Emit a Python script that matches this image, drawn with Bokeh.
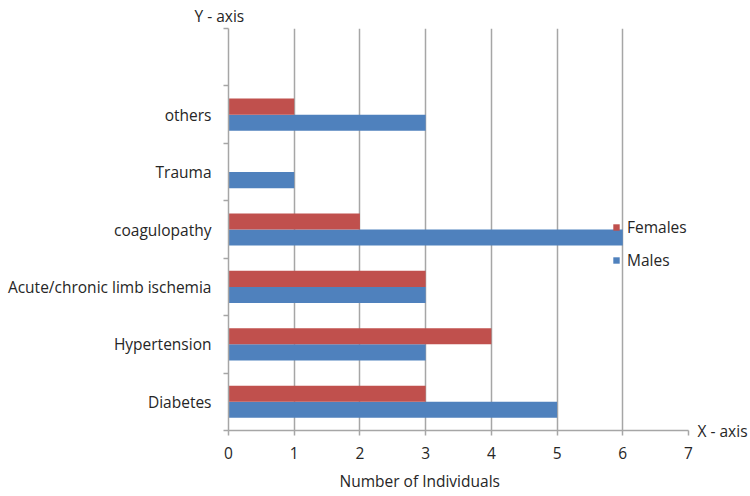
from bokeh.plotting import figure
from bokeh.models import (Range1d, FixedTicker, LinearAxis, Title, Legend,
                          LegendItem, ColumnDataSource)
from bokeh.embed import file_html
from bokeh.resources import INLINE

# Risk factors (bottom to top) and counts per sex
categories = ["Diabetes", "Hypertension", "Acute/chronic limb ischemia",
              "coagulopathy", "Trauma", "others"]
males = [5, 3, 3, 6, 1, 3]
females = [3, 4, 3, 2, 0, 1]
x_ticks = [0, 1, 2, 3, 4, 5, 6, 7]

FONT = "Open Sans"
FS = "15.5px"
TXT = "#262626"
GRID = "#a6a6a6"
BLUE = "#4f81bd"
RED = "#c0504d"

n_slots = len(categories) + 1  # one empty slot above the last category
centers = [i + 0.5 for i in range(len(categories))]
bar_h = 0.28

male_src = ColumnDataSource(dict(y=[c - bar_h / 2 for c in centers], v=males))
fem_src = ColumnDataSource(dict(y=[c + bar_h / 2 for c in centers], v=females))

p = figure(width=750, height=496, output_backend="svg", toolbar_location=None,
           x_range=Range1d(0, x_ticks[-1]), y_range=Range1d(0, n_slots),
           min_border_left=228, min_border_right=62,
           min_border_top=28, min_border_bottom=66)
p.outline_line_color = None
p.background_fill_color = "white"
p.border_fill_color = "white"

rm = p.hbar(y="y", right="v", left=0, height=bar_h, source=male_src,
            fill_color=BLUE, line_color=None)
rf = p.hbar(y="y", right="v", left=0, height=bar_h, source=fem_src,
            fill_color=RED, line_color=None)


def plain_tag_axis(axis, standoff):
    """Style an axis so that it shows only its label text."""
    axis.axis_line_color = None
    axis.major_tick_line_color = None
    axis.minor_tick_line_color = None
    axis.major_tick_out = 0
    axis.major_tick_in = 0
    axis.major_label_standoff = standoff
    axis.major_label_text_font = FONT
    axis.major_label_text_font_size = FS
    axis.major_label_text_color = TXT


# x axis
xa = p.xaxis[0]
xa.ticker = FixedTicker(ticks=x_ticks)
xa.axis_line_color = GRID
xa.axis_line_width = 1.5
xa.major_tick_line_color = GRID
xa.major_tick_line_width = 1.5
xa.major_tick_out = 5
xa.major_tick_in = 0
xa.minor_tick_line_color = None
xa.major_label_text_font = FONT
xa.major_label_text_font_size = FS
xa.major_label_text_color = TXT
xa.major_label_standoff = 11

# x axis title, set a little left of the frame centre
title_x = 2.91
xtitle = LinearAxis(ticker=FixedTicker(ticks=[title_x]),
                    major_label_overrides={title_x: "Number of Individuals"})
plain_tag_axis(xtitle, 8)
p.add_layout(xtitle, "below")

# y axis: labels at slot centres, tick marks at slot boundaries
ya = p.yaxis[0]
ya.ticker = FixedTicker(ticks=centers, minor_ticks=list(range(n_slots + 1)))
ya.major_label_overrides = {c: name for c, name in zip(centers, categories)}
ya.axis_line_color = GRID
ya.axis_line_width = 1.5
ya.major_tick_line_color = None
ya.major_tick_out = 0
ya.major_tick_in = 0
ya.minor_tick_line_color = GRID
ya.minor_tick_line_width = 1.5
ya.minor_tick_out = 5
ya.minor_tick_in = 0
ya.major_label_text_font = FONT
ya.major_label_text_font_size = FS
ya.major_label_text_color = TXT
ya.major_label_standoff = 12

# "X - axis" tag at the end of the horizontal axis
xtag = LinearAxis(ticker=FixedTicker(ticks=[0]),
                  major_label_overrides={0: "X - axis"})
plain_tag_axis(xtag, 9)
p.add_layout(xtag, "right")

p.xgrid.ticker = FixedTicker(ticks=x_ticks[1:])
p.xgrid.grid_line_color = GRID
p.xgrid.grid_line_width = 1.5
p.ygrid.grid_line_color = None

# "Y - axis" tag above the vertical axis
ytag = Title(text="Y - axis", align="left", offset=-34, standoff=4,
             text_font=FONT, text_font_size=FS, text_font_style="normal",
             text_color=TXT)
p.add_layout(ytag, "above")

legend = Legend(items=[LegendItem(label="Females", renderers=[rf]),
                       LegendItem(label="Males", renderers=[rm])],
                location=(384, 159), orientation="vertical")
legend.glyph_width = 8
legend.glyph_height = 8
legend.label_height = 20
legend.spacing = 11
legend.padding = 0
legend.margin = 0
legend.label_standoff = 7
legend.label_text_font = FONT
legend.label_text_font_size = FS
legend.label_text_color = TXT
legend.background_fill_alpha = 0
legend.border_line_alpha = 0
p.add_layout(legend)

open("out.html", "w").write(file_html(p, INLINE))
